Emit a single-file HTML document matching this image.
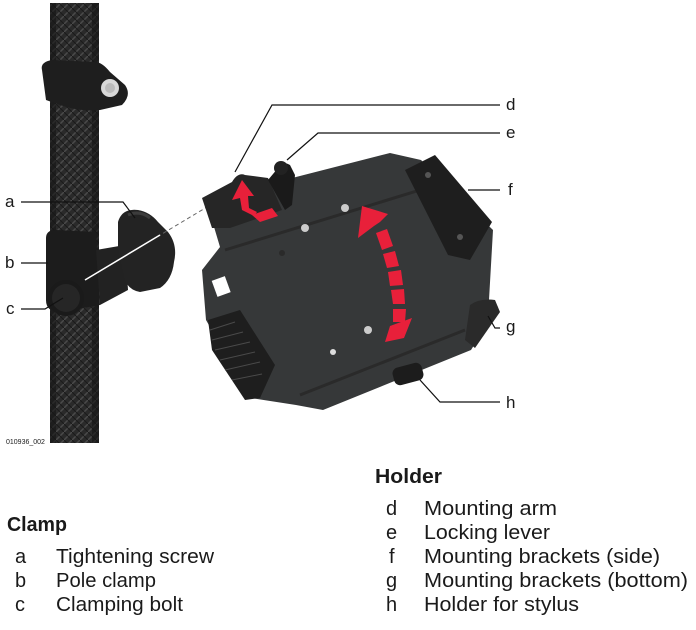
<!DOCTYPE html>
<html><head><meta charset="utf-8"><style>
html,body{margin:0;padding:0;background:#fff;width:696px;height:630px;overflow:hidden}
svg{display:block}
text{font-family:"Liberation Sans",sans-serif;fill:#1a1a1a}
</style></head><body>
<svg width="696" height="630" viewBox="0 0 696 630" xmlns="http://www.w3.org/2000/svg">
<defs>
<pattern id="braid" width="8" height="8" patternUnits="userSpaceOnUse">
<rect width="8" height="8" fill="#2a2a2a"/>
<path d="M0 8L8 0M-2 2L2 -2M6 10L10 6" stroke="#4a4a4a" stroke-width="1.5"/>
<path d="M0 0L8 8" stroke="#1a1a1a" stroke-width="1"/>
</pattern>
</defs>
<rect x="50" y="3" width="49" height="440" fill="url(#braid)"/>
<rect x="50" y="3" width="6" height="440" fill="#151515" opacity=".6"/>
<rect x="92" y="3" width="7" height="440" fill="#151515" opacity=".6"/>
<path d="M42 70 Q40 62 52 60 L95 62 Q102 62 110 72 L125 85 Q132 95 122 105 L100 110 Q80 112 60 105 L46 100 Z" fill="#1e1e1e"/>
<circle cx="110" cy="88" r="9" fill="#d8d8d8"/>
<circle cx="110" cy="88" r="5" fill="#bbb"/>
<path d="M46 238 Q46 230 56 230 L96 232 L100 305 L60 312 Q46 312 46 300 Z" fill="#1c1c1c"/>
<path d="M96 250 L125 245 L128 290 L100 305 Z" fill="#222"/>
<path d="M118 222 Q122 208 138 210 Q150 212 158 222 L168 232 Q178 245 174 262 Q172 280 160 288 L140 292 Q128 290 124 278 L118 250 Z" fill="#232323"/>
<path d="M128 215 Q140 210 150 218" stroke="#3c3c3c" stroke-width="3" fill="none"/>
<circle cx="66" cy="298" r="18" fill="#1a1a1a"/>
<circle cx="66" cy="298" r="14" fill="#262626"/>
<line x1="85" y1="280" x2="207" y2="207" stroke="#666" stroke-width="1" stroke-dasharray="4,3"/>
<line x1="85" y1="280" x2="160" y2="235" stroke="#fff" stroke-width="1.5"/>
<path d="M206 200 L390 153 L421 160 L493 230 L489 300 L498 307 L471 350 L323 410 L296 405 L251 398 L206 320 L202 270 L220 247 Z" fill="#363839"/>
<path d="M225 250 L420 190" stroke="#2a2a2a" stroke-width="3"/>
<path d="M300 395 L465 330" stroke="#2a2a2a" stroke-width="3"/>
<path d="M405 170 L435 155 L492 222 L470 260 L448 255 Z" fill="#1e1e1e"/>
<circle cx="428" cy="175" r="3" fill="#555"/><circle cx="460" cy="237" r="3" fill="#555"/>
<path d="M208 320 L240 310 L275 365 L260 398 L245 400 L212 350 Z" fill="#1e1e1e"/>
<path d="M210 330 L235 322 M212 340 L243 332 M215 350 L250 342 M220 360 L255 352 M225 370 L260 362 M232 380 L262 374" stroke="#4a4a4a" stroke-width="1"/>
<rect x="214" y="278" width="14" height="17" fill="#fff" transform="rotate(-20 221 286)"/>
<path d="M470 305 Q480 298 495 300 L500 312 L475 348 L465 340 Z" fill="#2a2a2a"/>
<rect x="393" y="365" width="30" height="18" rx="6" fill="#1c1c1c" transform="rotate(-15 408 374)"/>
<path d="M202 198 L232 182 Q238 172 245 175 L268 178 L282 210 L230 228 L212 228 Z" fill="#262626"/>
<path d="M268 180 L278 168 Q282 160 290 165 L295 175 L292 205 L285 210 Z" fill="#1a1a1a"/>
<circle cx="281" cy="168" r="7" fill="#222"/>
<circle cx="345" cy="208" r="4" fill="#ccc"/><circle cx="305" cy="228" r="4" fill="#ccc"/>
<circle cx="368" cy="330" r="4" fill="#ccc"/><circle cx="333" cy="352" r="3" fill="#ddd"/>
<circle cx="282" cy="253" r="3" fill="#2a2a2a"/>
<g fill="#e8203a">
<path d="M232 200 L242 180 L254 196 L248 196 L249 208 L257 212 L254 216 L242 210 L240 198 Z"/>
<path d="M252 215 L272 208 L278 216 L260 222 Z"/>
<path d="M358 238 L362 206 L388 214 L380 222 L374 226 Z"/>
<path d="M376 233 L387 229 L393 246 L382 250 Z"/>
<path d="M383 254 L395 251 L399 266 L387 268 Z"/>
<path d="M388 272 L401 270 L403 285 L390 286 Z"/>
<path d="M391 290 L404 289 L405 304 L393 304 Z"/>
<path d="M393 309 L406 309 L405 322 L393 322 Z"/>
<path d="M390 326 L412 318 L404 338 L385 342 Z"/>
</g>
<g stroke="#111" stroke-width="1.2" fill="none">
<polyline points="21,202 123,202 135,218"/>
<polyline points="21,263 48,263"/>
<polyline points="21,309 45,309 63,298"/>
<polyline points="500,105 272,105 235,172"/>
<polyline points="500,133 318,133 287,160"/>
<polyline points="500,190 468,190"/>
<polyline points="500,328 495,328 488,316"/>
<polyline points="500,402 440,402 420,380"/>
</g>
<g font-size="17">
<text x="5" y="207">a</text><text x="5" y="268">b</text><text x="6" y="314">c</text>
<text x="506" y="110">d</text><text x="506" y="138">e</text><text x="508" y="195">f</text>
<text x="506" y="332">g</text><text x="506" y="408">h</text>
</g>
<text x="6" y="444" font-size="7" fill="#333">010936_002</text>
<g lengthAdjust="spacingAndGlyphs">
<text x="375" y="483" font-size="20" font-weight="bold" textLength="67" lengthAdjust="spacingAndGlyphs">Holder</text>
<text x="7" y="531" font-size="20" font-weight="bold" textLength="60" lengthAdjust="spacingAndGlyphs">Clamp</text>
</g>
<g font-size="20">
<text x="386" y="515">d</text><text x="424" y="515" textLength="133" lengthAdjust="spacingAndGlyphs">Mounting arm</text>
<text x="386" y="539">e</text><text x="424" y="539" textLength="126" lengthAdjust="spacingAndGlyphs">Locking lever</text>
<text x="389" y="563">f</text><text x="424" y="563" textLength="236" lengthAdjust="spacingAndGlyphs">Mounting brackets (side)</text>
<text x="386" y="587">g</text><text x="424" y="587" textLength="264" lengthAdjust="spacingAndGlyphs">Mounting brackets (bottom)</text>
<text x="386" y="611">h</text><text x="424" y="611" textLength="155" lengthAdjust="spacingAndGlyphs">Holder for stylus</text>
<text x="15" y="563">a</text><text x="56" y="563" textLength="158" lengthAdjust="spacingAndGlyphs">Tightening screw</text>
<text x="15" y="587">b</text><text x="56" y="587" textLength="100" lengthAdjust="spacingAndGlyphs">Pole clamp</text>
<text x="15" y="611">c</text><text x="56" y="611" textLength="127" lengthAdjust="spacingAndGlyphs">Clamping bolt</text>
</g>
</svg>
</body></html>
